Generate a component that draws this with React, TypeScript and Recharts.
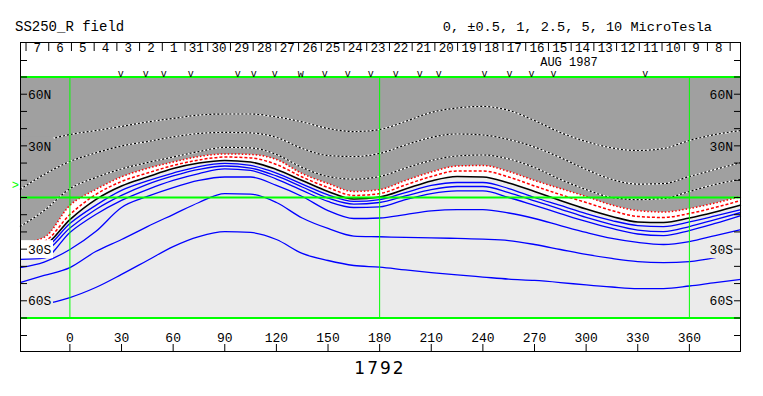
import React from "react";
import {
  ComposedChart,
  CartesianGrid,
  Area,
  Line,
  XAxis,
  YAxis,
  ReferenceLine,
  ReferenceDot,
} from "recharts";

// longitude grid (deg) the contours are read on
const lon = [-29, -15, 0, 15, 30, 45, 60, 75, 90, 105, 120, 135, 150, 165, 180, 195, 210, 225, 240, 255, 270, 285, 300, 315, 330, 345, 360, 375, 390];

// positive contours (black/white dotted), top to bottom
const dot1 = [30.2, 33.1, 36.6, 38.9, 41.3, 43.9, 45.9, 47.9, 48.5, 48.5, 46.8, 43.9, 40.1, 38.3, 39.5, 44.2, 49.4, 52.0, 52.9, 50.6, 44.7, 37.8, 32.5, 28.8, 27.3, 28.5, 33.1, 36.6, 38.9];
const dot2 = [4.6, 13.4, 20.9, 25.9, 29.9, 32.5, 35.2, 37.2, 37.8, 37.5, 34.9, 28.5, 24.4, 23.8, 25.6, 30.5, 34.9, 36.9, 36.3, 33.7, 29.3, 23.2, 16.3, 10.5, 7.8, 8.1, 12.2, 16.3, 20.3];
const dot3 = [-16.9, -7.6, 5.1, 11.6, 16.6, 20.3, 23.5, 26.7, 29.1, 28.8, 25.0, 17.4, 12.2, 10.7, 12.2, 17.1, 21.5, 24.1, 24.7, 22.4, 17.4, 10.5, 4.6, 0.0, -1.2, -0.6, 3.5, 7.6, 10.5];
// red contours next to the neutral line
const red1 = [-26.5, -23.2, -4.6, 4.6, 12.0, 16.9, 20.6, 23.8, 25.3, 25.0, 22.1, 13.9, 8.1, 3.5, 4.6, 9.9, 14.8, 18.3, 18.6, 15.1, 9.9, 5.2, 0.6, -4.4, -7.6, -8.4, -6.4, -3.2, 0.6];
const red2 = [-28.5, -25.6, -9.9, 1.7, 9.3, 14.2, 18.6, 21.8, 23.5, 23.0, 19.2, 11.9, 5.8, 1.2, 2.3, 7.3, 12.2, 15.4, 15.4, 11.9, 6.7, 1.7, -2.9, -7.6, -11.0, -11.6, -9.3, -5.8, -1.7];
// neutral line
const neutral = [-30.5, -27.9, -12.8, -1.2, 6.7, 11.9, 16.8, 20.0, 21.5, 20.6, 16.3, 9.9, 3.5, -0.9, 0.3, 4.9, 9.6, 12.2, 11.9, 8.4, 3.5, -1.7, -6.7, -11.0, -14.2, -14.5, -11.9, -8.4, -4.4];
// negative contours (blue), top to bottom
const blue1 = [-32.0, -29.6, -15.1, -4.6, 4.1, 9.6, 14.2, 18.0, 19.8, 18.6, 14.2, 7.8, 1.5, -2.3, -1.2, 2.9, 7.0, 8.7, 8.7, 5.2, 0.0, -4.6, -9.3, -13.4, -16.3, -16.9, -14.2, -10.7, -7.0];
const blue2 = [-33.5, -31.4, -17.7, -7.0, 1.2, 7.6, 12.5, 16.3, 18.3, 17.1, 12.5, 6.1, -0.3, -3.8, -2.9, 0.9, 4.6, 6.4, 6.4, 2.9, -2.0, -6.7, -11.6, -15.7, -18.9, -19.8, -16.9, -12.8, -8.7];
const blue3 = [-36.0, -35.2, -20.3, -9.9, -1.7, 4.6, 9.9, 13.9, 16.6, 15.7, 10.7, 4.1, -2.3, -5.8, -5.5, -1.2, 2.3, 3.8, 3.8, 0.0, -4.6, -9.3, -13.9, -18.0, -21.2, -22.1, -19.2, -15.1, -10.5];
const blue4 = [-40.7, -37.5, -30.2, -19.8, -5.8, 0.6, 5.8, 9.9, 11.9, 11.9, 7.0, 0.6, -7.6, -12.2, -11.9, -9.9, -7.8, -7.0, -7.0, -9.0, -12.2, -16.3, -20.3, -23.8, -26.1, -27.3, -25.6, -22.1, -18.6];
const blue5 = [-49.4, -45.3, -40.7, -31.4, -24.4, -16.9, -9.9, -2.9, 2.3, 2.0, -2.9, -11.9, -18.0, -22.4, -22.8, -23.2, -23.4, -23.8, -24.2, -25.0, -27.3, -30.2, -33.1, -35.4, -37.2, -37.8, -37.2, -34.9, -31.4];
const blue6 = [-62.2, -61.6, -58.1, -52.3, -44.7, -36.6, -28.5, -22.7, -19.8, -20.3, -24.4, -32.5, -36.6, -39.5, -40.5, -42.1, -43.6, -45.0, -46.2, -47.4, -48.2, -49.4, -50.8, -52.0, -52.9, -52.9, -51.4, -49.4, -47.6];

// markers above the map
const markLon = [29.6, 44.1, 54.6, 70.3, 97.5, 106.8, 119.0, 134.1, 148.1, 161.4, 174.8, 189.3, 203.3, 214.3, 241.0, 255.5, 268.3, 281.0, 334.4];
const markChar = ["v", "v", "v", "v", "v", "v", "v", "w", "v", "v", "v", "v", "v", "v", "v", "v", "v", "v", "v"];
const earthLat = 7.5;

const dayLabels = ["7", "6", "5", "4", "3", "2", "1", "31", "30", "29", "28", "27", "26", "25", "24", "23", "22", "21", "20", "19", "18", "17", "16", "15", "14", "13", "12", "11", "10", "9", "8"];
const lonTicks = [0, 30, 60, 90, 120, 150, 180, 210, 240, 270, 300, 330, 360];
const latTicks = [-70, -60, -50, -40, -30, -20, -10, 0, 10, 20, 30, 40, 50, 60, 70];
const latLabels: Record<number, string> = { 60: "60N", 30: "30N", [-30]: "30S", [-60]: "60S" };

const W = 763;
const H = 396;
const PLOT_L = 20;
const PLOT_R = 741;
const LON_MIN = -29;
const LON_MAX = 390;
const FONT = "'Liberation Mono', 'DejaVu Sans Mono', monospace";
const DARK = "#a0a0a0";
const LIGHT = "#ebebeb";
const GREEN = "#00ff00";
const DAY0 = -25.5; // first day boundary, deg
const DEG_PER_DAY = 13.2;

const rows = lon.map((x, i) => ({
  lon: x,
  dot1: dot1[i],
  dot2: dot2[i],
  dot3: dot3[i],
  red1: red1[i],
  red2: red2[i],
  neutral: neutral[i],
  blue1: blue1[i],
  blue2: blue2[i],
  blue3: blue3[i],
  blue4: blue4[i],
  blue5: blue5[i],
  blue6: blue6[i],
}));

// day boundaries get a tick mark, day centres get the date
const dayEdges = dayLabels.map((_, i) => DAY0 + i * DEG_PER_DAY).concat(DAY0 + dayLabels.length * DEG_PER_DAY);
const dayCentres = dayLabels.map((_, i) => DAY0 + (i + 0.5) * DEG_PER_DAY);
const dayTicks = [...dayEdges, ...dayCentres].sort((a, b) => a - b);

const DayTick = (props: any) => {
  const { x, y, payload } = props;
  const i = dayCentres.findIndex((c) => Math.abs(c - payload.value) < 0.01);
  if (i < 0) {
    return <line x1={x} x2={x} y1={y - 34} y2={y - 26} stroke="#000" />;
  }
  return (
    <text x={x} y={y - 25} textAnchor="middle" fontFamily={FONT} fontSize={12.5} fill="#000">
      {dayLabels[i]}
    </text>
  );
};

const LonTick = (props: any) => {
  const { x, y, payload } = props;
  return (
    <g>
      <text x={x} y={y + 24} textAnchor="middle" fontFamily={FONT} fontSize={13} fill="#000">
        {payload.value}
      </text>
      <line x1={x} x2={x} y1={y + 26} y2={y + 34} stroke="#000" />
    </g>
  );
};

const boxFill = (v: number, side: "l" | "r") => {
  if (v > 0) return DARK;
  if (v === -30 && side === "l") return "#ffffff";
  return LIGHT;
};

// latitude tick + label drawn at the frame edge (side l or r)
const latMark = (v: number, side: "l" | "r") => (p: any) => {
  const { cx, cy } = p;
  const label = latLabels[v];
  const dir = side === "l" ? 1 : -1;
  return (
    <g>
      {label && (
        <rect x={side === "l" ? cx + 1 : cx - 33} y={cy - 9} width={32} height={18} fill={boxFill(v, side)} />
      )}
      <line x1={cx} x2={cx + dir * 7} y1={cy} y2={cy} stroke="#000" />
      {label && (
        <text
          x={cx + dir * 8}
          y={cy}
          dy="0.36em"
          textAnchor={side === "l" ? "start" : "end"}
          fontFamily={FONT}
          fontSize={13}
          fill="#000"
        >
          {label}
        </text>
      )}
    </g>
  );
};

const dashed = (key: string) => [
  <Line key={key + "w"} dataKey={key} type="monotone" stroke="#ffffff" strokeWidth={1.2} dot={false} activeDot={false} isAnimationActive={false} />,
  <Line key={key + "k"} dataKey={key} type="monotone" stroke="#000000" strokeWidth={1.2} strokeDasharray="2 2" dot={false} activeDot={false} isAnimationActive={false} />,
];

const blues = ["blue1", "blue2", "blue3", "blue4", "blue5", "blue6"];

export default function App() {
  return (
    <div style={{ position: "absolute", left: 0, top: 0, width: W, height: H, background: "#fff" }}>
      <ComposedChart width={W} height={H} data={rows} margin={{ top: 42, right: W - PLOT_R, bottom: 44, left: PLOT_L }}>
        <CartesianGrid horizontal={false} vertical={false} fill={LIGHT} stroke="none" />
        <XAxis
          xAxisId="top"
          dataKey="lon"
          orientation="top"
          type="number"
          domain={[LON_MIN, LON_MAX]}
          allowDataOverflow
          ticks={dayTicks}
          interval={0}
          height={35}
          tickSize={0}
          tickMargin={0}
          axisLine={false}
          tickLine={false}
          tick={DayTick}
        />
        <XAxis
          dataKey="lon"
          type="number"
          domain={[LON_MIN, LON_MAX]}
          ticks={lonTicks}
          interval={0}
          height={34}
          tickSize={0}
          tickMargin={0}
          axisLine={false}
          tickLine={false}
          tick={LonTick}
        />
        <YAxis type="number" domain={[-70, 70]} ticks={latTicks} hide />
        <Area dataKey="red1" type="monotone" baseValue={70} fill={DARK} fillOpacity={1} stroke="none" isAnimationActive={false} />
        <Area
          dataKey={(d: any) => [d.neutral, d.red1]}
          type="monotone"
          fill="#ffffff"
          fillOpacity={1}
          stroke="none"
          isAnimationActive={false}
        />
        {blues.map((k) => (
          <Line key={k} dataKey={k} type="monotone" stroke="#0000ff" strokeWidth={1.3} dot={false} activeDot={false} isAnimationActive={false} />
        ))}
        <Line dataKey="neutral" type="monotone" stroke="#000" strokeWidth={1.6} dot={false} activeDot={false} isAnimationActive={false} />
        <Line dataKey="red2" type="monotone" stroke="#ff0000" strokeWidth={1.5} strokeDasharray="3 2" dot={false} activeDot={false} isAnimationActive={false} />
        <Line dataKey="red1" type="monotone" stroke="#ff0000" strokeWidth={1.5} strokeDasharray="1.5 2" dot={false} activeDot={false} isAnimationActive={false} />
        {dashed("dot3")}
        {dashed("dot2")}
        {dashed("dot1")}
        <ReferenceLine x={0} stroke={GREEN} strokeWidth={1} />
        <ReferenceLine x={180} stroke={GREEN} strokeWidth={1} />
        <ReferenceLine x={360} stroke={GREEN} strokeWidth={1} />
        <ReferenceLine y={0} stroke={GREEN} strokeWidth={2} />
        <ReferenceLine y={70} stroke={GREEN} strokeWidth={2} />
        <ReferenceLine y={-70} stroke={GREEN} strokeWidth={2} />
        {latTicks.map((v) => (
          <ReferenceDot key={"ll" + v} x={LON_MIN} y={v} r={0} ifOverflow="visible" shape={latMark(v, "l")} />
        ))}
        {latTicks.map((v) => (
          <ReferenceDot key={"lr" + v} x={LON_MAX} y={v} r={0} ifOverflow="visible" shape={latMark(v, "r")} />
        ))}
        {markLon.map((x, i) => (
          <ReferenceDot
            key={"m" + i}
            x={x}
            y={70}
            r={0}
            ifOverflow="visible"
            shape={(p: any) => (
              <text x={p.cx} y={p.cy - 0.5} textAnchor="middle" fontFamily={FONT} fontSize={10} fill="#000">
                {markChar[i]}
              </text>
            )}
          />
        ))}
        <ReferenceDot
          x={LON_MIN}
          y={earthLat}
          r={0}
          ifOverflow="visible"
          shape={(p: any) => (
            <text x={p.cx - 1} y={p.cy} dy="0.36em" textAnchor="end" fontFamily={FONT} fontSize={12} fill={GREEN}>
              {">"}
            </text>
          )}
        />
      </ComposedChart>
      <svg width={W} height={H} style={{ position: "absolute", left: 0, top: 0, pointerEvents: "none" }}>
        <rect x={20.5} y={42.5} width={720} height={309} fill="none" stroke="#000" />
        <line x1={20} x2={27} y1={60.5} y2={60.5} stroke="#000" />
        <line x1={734} x2={741} y1={60.5} y2={60.5} stroke="#000" />
        <line x1={20} x2={27} y1={335.5} y2={335.5} stroke="#000" />
        <line x1={734} x2={741} y1={335.5} y2={335.5} stroke="#000" />
        <text x={15} y={31} fontFamily={FONT} fontSize={14} fill="#000">SS250_R field</text>
        <text x={712} y={31} textAnchor="end" fontFamily={FONT} fontSize={13.6} fill="#000">
          0, ±0.5, 1, 2.5, 5, 10 MicroTesla
        </text>
        <text x={569} y={65.5} textAnchor="middle" fontFamily={FONT} fontSize={12} fill="#000">AUG 1987</text>
        <text x={380} y={374} textAnchor="middle" fontFamily="'DejaVu Sans', sans-serif" fontSize={17} letterSpacing={2} fill="#000">
          1792
        </text>
      </svg>
    </div>
  );
}
